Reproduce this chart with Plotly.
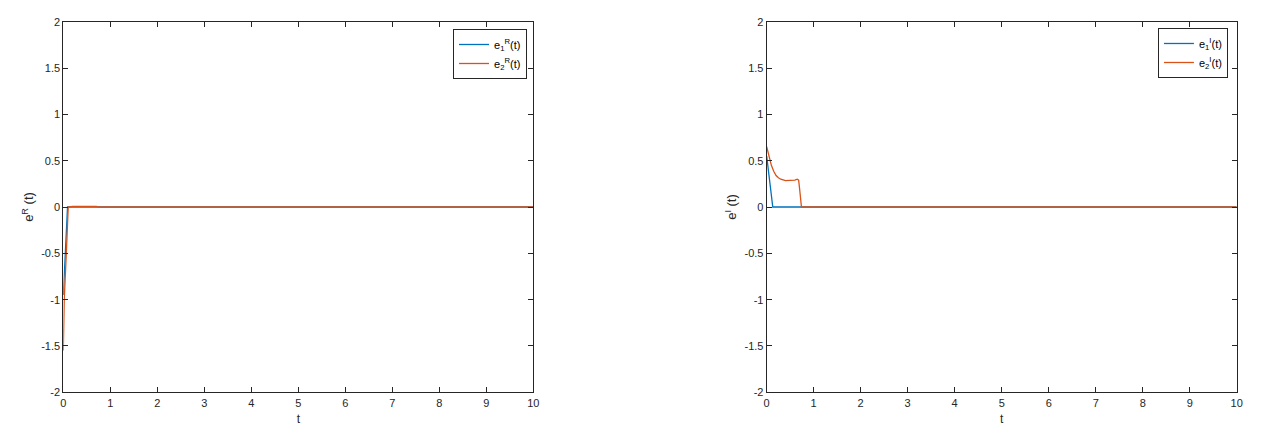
import plotly.graph_objects as go
from plotly.subplots import make_subplots

BLUE = "#0072BD"
ORANGE = "#D95319"
AXIS = "#262626"

# real part errors
t_r1 = [0, 0.03, 0.06, 0.09, 10]
e_r1 = [-0.95, -0.62, -0.28, 0.0, 0.0]
t_r2 = [0, 0.02, 0.07, 0.105, 0.2, 0.3, 0.4, 0.5, 0.6, 0.7, 0.75, 10]
e_r2 = [-1.55, -1.0, -0.43, 0.0, 0.007, 0.008, 0.007, 0.008, 0.007, 0.006, 0.0, 0.0]

# imaginary part errors
t_i1 = [0, 0.03, 0.06, 0.09, 0.13, 10]
e_i1 = [0.55, 0.42, 0.28, 0.13, 0.0, 0.0]
t_i2 = [0, 0.05, 0.1, 0.15, 0.2, 0.25, 0.3, 0.4, 0.5, 0.6, 0.65, 0.68, 0.7, 0.72, 0.74, 10]
e_i2 = [0.65, 0.54, 0.45, 0.385, 0.34, 0.315, 0.3, 0.285, 0.285, 0.29, 0.3, 0.29, 0.2, 0.08, 0.0, 0.0]

x_ticks = list(range(0, 11))
y_ticks = [-2, -1.5, -1, -0.5, 0, 0.5, 1, 1.5, 2]
y_labels = ["-2", "-1.5", "-1", "-0.5", "0", "0.5", "1", "1.5", "2"]

fig = make_subplots(rows=1, cols=2)

fig.add_trace(go.Scatter(x=t_r1, y=e_r1, mode="lines", name="e<sub>1</sub><sup>R</sup>(t)",
                         line=dict(color=BLUE, width=1.3), legend="legend"), row=1, col=1)
fig.add_trace(go.Scatter(x=t_r2, y=e_r2, mode="lines", name="e<sub>2</sub><sup>R</sup>(t)",
                         line=dict(color=ORANGE, width=1.3), legend="legend"), row=1, col=1)
fig.add_trace(go.Scatter(x=t_i1, y=e_i1, mode="lines", name="e<sub>1</sub><sup>I</sup>(t)",
                         line=dict(color=BLUE, width=1.3), legend="legend2"), row=1, col=2)
fig.add_trace(go.Scatter(x=t_i2, y=e_i2, mode="lines", name="e<sub>2</sub><sup>I</sup>(t)",
                         line=dict(color=ORANGE, width=1.3), legend="legend2"), row=1, col=2)

axis_style = dict(showline=True, linecolor=AXIS, linewidth=1, mirror="ticks",
                  ticks="inside", ticklen=5, tickcolor=AXIS, showgrid=False, zeroline=False,
                  automargin=False, tickfont=dict(size=11, color=AXIS))

fig.update_xaxes(axis_style, range=[0, 10], tickvals=x_ticks,
                 title=dict(text="t", font=dict(size=12, color=AXIS), standoff=7))
fig.update_yaxes(axis_style, range=[-2, 2], tickvals=y_ticks, ticktext=y_labels)
fig.update_yaxes(title=dict(text="e<sup>R</sup> (t)", font=dict(size=13, color=AXIS), standoff=4),
                 row=1, col=1)
fig.update_yaxes(title=dict(text="e<sup>I</sup> (t)", font=dict(size=13, color=AXIS), standoff=4),
                 row=1, col=2)

# page body has an 8px margin, so the figure is a bit smaller than the window
fig.update_layout(xaxis=dict(domain=[0.04435, 0.42125]),
                  xaxis2=dict(domain=[0.6084, 0.98533]),
                  yaxis=dict(domain=[0.0828, 0.9673]),
                  yaxis2=dict(domain=[0.0828, 0.9673]))

legend_style = dict(bgcolor="white", bordercolor=AXIS, borderwidth=1,
                    font=dict(size=11, color="black"), xanchor="right", yanchor="top",
                    tracegroupgap=0, itemwidth=30)
fig.update_layout(
    legend=dict(legend_style, x=0.4162, y=0.9499),
    legend2=dict(legend_style, x=0.9783, y=0.9523),
    width=1247, height=419, margin=dict(l=0, r=0, t=0, b=0, autoexpand=False),
    plot_bgcolor="white", paper_bgcolor="white",
    font=dict(family="Liberation Sans, Arial, sans-serif", color=AXIS),
)

fig.write_html("out.html")
